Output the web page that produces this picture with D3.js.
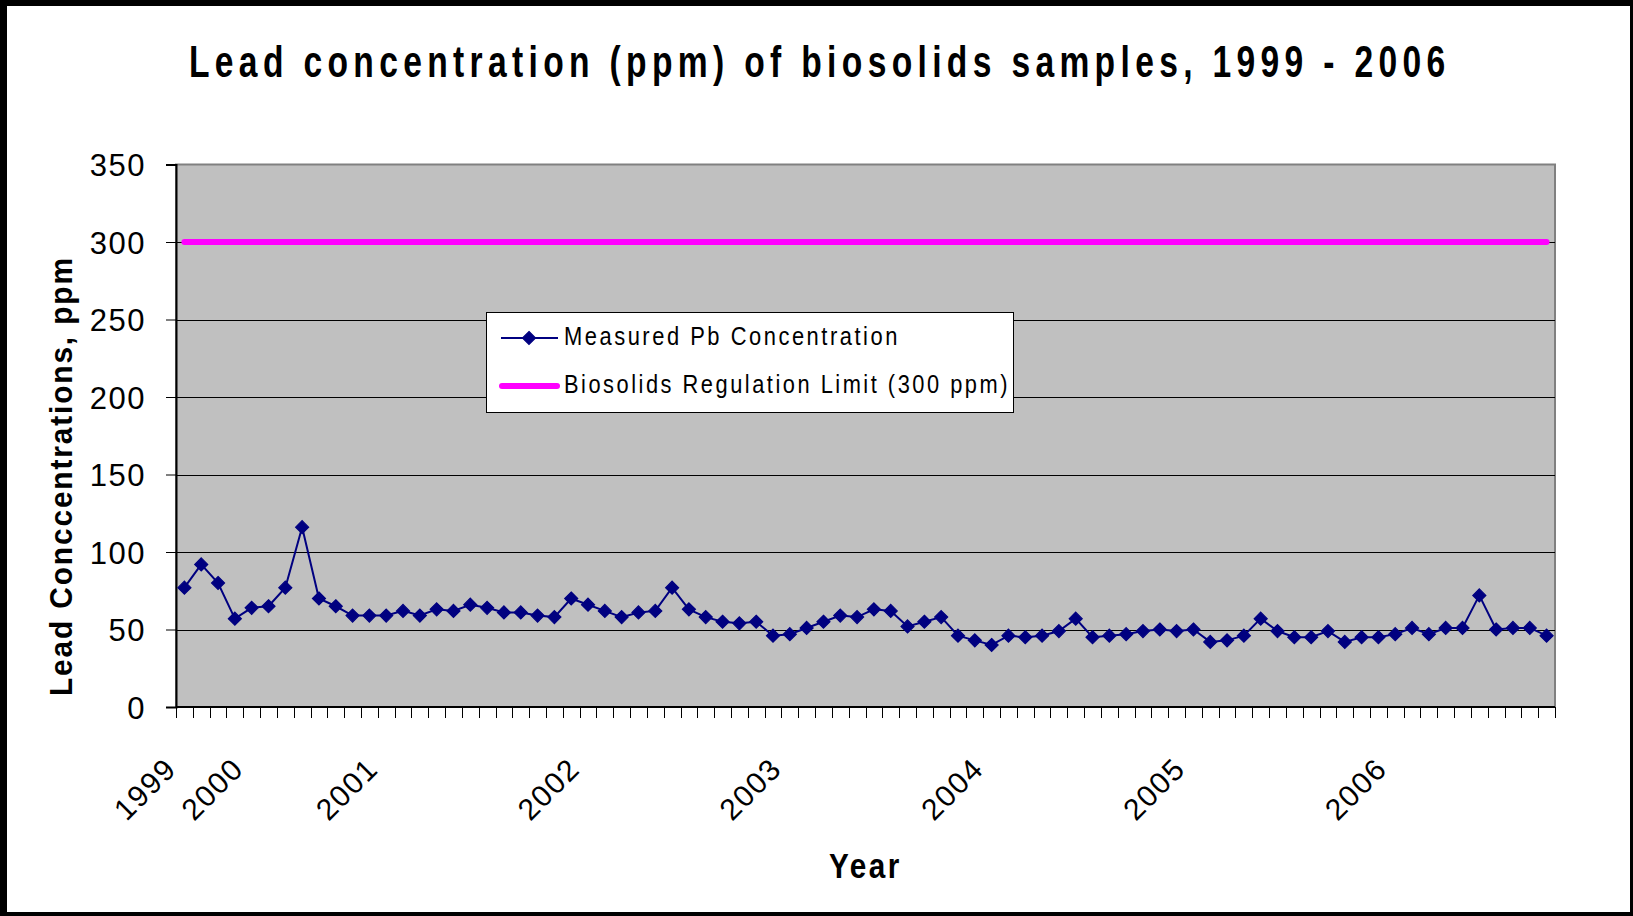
<!DOCTYPE html>
<html>
<head>
<meta charset="utf-8">
<script src="https://d3js.org/d3.v7.min.js"></script>
<style>
  body { margin: 0; background: #fff; }
  text { font-family: "Liberation Sans", Arial, sans-serif; fill: #000; }
</style>
</head>
<body>
<div id="chart"></div>
<script>
// monthly lead samples, Excel-style category axis
var pbValues = [77, 92, 80, 57, 64, 65, 77, 116, 70, 65, 59, 59, 59, 62, 59, 63, 62, 66, 64, 61,
    61, 59, 58, 70, 66, 62, 58, 61, 62, 77, 63, 58, 55, 54, 55, 46, 47, 51, 55, 59,
    58, 63, 62, 52, 55, 58, 46, 43, 40, 46, 45, 46, 49, 57, 45, 46, 47, 49, 50, 49,
    50, 42, 43, 46, 57, 49, 45, 45, 49, 42, 45, 45, 47, 51, 47, 51, 51, 72, 50, 51,
    51, 46];
var limitValue = 300;
var yearLabels = ["1999", "2000", "2001", "2002", "2003", "2004", "2005", "2006"];
var yearLabelIndex = [0, 4, 12, 24, 36, 48, 60, 72];
var yTicks = [0, 50, 100, 150, 200, 250, 300, 350];
var seriesNames = ["Measured Pb Concentration", "Biosolids Regulation Limit (300 ppm)"];

var svgWidth = 1633;
var svgHeight = 916;
var plot = { left: 176, right: 1555, top: 164.5, bottom: 707 };

var svg = d3.select("#chart")
    .append("svg")
    .attr("width", svgWidth)
    .attr("height", svgHeight);

// squeeze a text horizontally to a given width (the original uses a condensed face)
function fitText(sel, x, y, width, rotate) {
    var w = sel.node().getComputedTextLength();
    var s = width / w;
    if (rotate) {
        sel.attr("transform", `translate(${x}, ${y}) rotate(${rotate}) scale(${s}, 1)`);
    } else {
        sel.attr("transform", `translate(${x}, ${y}) scale(${s}, 1)`);
    }
    return sel;
}

// outer frame
svg.append("rect")
    .attr("width", svgWidth)
    .attr("height", svgHeight)
    .attr("fill", "#000");
svg.append("rect")
    .attr("x", 7)
    .attr("y", 6)
    .attr("width", 1623)
    .attr("height", 906)
    .attr("fill", "#fff");

var xBand = d3.scaleBand()
    .domain(d3.range(pbValues.length))
    .range([plot.left, plot.right]);

var yLinearScale = d3.scaleLinear()
    .domain([0, 350])
    .range([plot.bottom, plot.top]);

var xMid = function(i) { return xBand(i) + xBand.bandwidth() / 2; };

// plot area
svg.append("rect")
    .attr("x", plot.left)
    .attr("y", plot.top)
    .attr("width", plot.right - plot.left)
    .attr("height", plot.bottom - plot.top)
    .attr("fill", "#c0c0c0")
    .attr("stroke", "#808080")
    .attr("stroke-width", 2);

// gridlines
svg.append("g")
    .selectAll("line")
    .data(yTicks.slice(1, -1))
    .enter()
    .append("line")
    .attr("x1", plot.left)
    .attr("x2", plot.right)
    .attr("y1", d => Math.round(yLinearScale(d)) + 0.5)
    .attr("y2", d => Math.round(yLinearScale(d)) + 0.5)
    .attr("stroke", "#000")
    .attr("stroke-width", 1);

// y axis
var leftAxis = d3.axisLeft(yLinearScale)
    .tickValues(yTicks)
    .tickSize(10)
    .tickPadding(20);

var yAxisG = svg.append("g")
    .attr("transform", `translate(${plot.left}, 0)`)
    .call(leftAxis);
yAxisG.select(".domain").attr("stroke", "#000").attr("stroke-width", 2);
yAxisG.selectAll(".tick line").attr("stroke", "#000");
yAxisG.selectAll(".tick text")
    .attr("font-size", "31px")
    .attr("letter-spacing", "1.5px")
    .attr("font-family", "Liberation Sans, Arial, sans-serif")
    .attr("fill", "#000")
    .attr("dy", "0.36em");

// x axis: ticks on category boundaries
var xTickPos = d3.range(pbValues.length + 1).map(i => plot.left + i * xBand.bandwidth());
svg.append("g")
    .selectAll("line")
    .data(xTickPos)
    .enter()
    .append("line")
    .attr("x1", d => Math.round(d) + 0.5)
    .attr("x2", d => Math.round(d) + 0.5)
    .attr("y1", plot.bottom)
    .attr("y2", plot.bottom + 11)
    .attr("stroke", "#000")
    .attr("stroke-width", 1);

svg.append("line")
    .attr("x1", plot.left)
    .attr("x2", plot.right)
    .attr("y1", plot.bottom)
    .attr("y2", plot.bottom)
    .attr("stroke", "#000")
    .attr("stroke-width", 2);

svg.append("g")
    .selectAll("text")
    .data(yearLabels)
    .enter()
    .append("text")
    .attr("transform", (d, i) => `translate(${xMid(yearLabelIndex[i]) - 14}, 763) rotate(-45)`)
    .attr("text-anchor", "end")
    .attr("dy", "0.36em")
    .attr("font-size", "30px")
    .attr("letter-spacing", "1.5px")
    .text(d => d);

// limit line
svg.append("line")
    .attr("x1", xMid(0))
    .attr("x2", xMid(pbValues.length - 1))
    .attr("y1", yLinearScale(limitValue))
    .attr("y2", yLinearScale(limitValue))
    .attr("stroke", "#ff00ff")
    .attr("stroke-width", 6)
    .attr("stroke-linecap", "round");

// measured series
var line = d3.line()
    .x((d, i) => xMid(i))
    .y(d => yLinearScale(d));

svg.append("path")
    .datum(pbValues)
    .attr("d", line)
    .attr("fill", "none")
    .attr("stroke", "#000080")
    .attr("stroke-width", 2);

var diamond = "M0,-6.5L6.5,0L0,6.5L-6.5,0Z";
svg.append("g")
    .selectAll("path")
    .data(pbValues)
    .enter()
    .append("path")
    .attr("d", diamond)
    .attr("transform", (d, i) => `translate(${xMid(i)}, ${yLinearScale(d)})`)
    .attr("fill", "#000080")
    .attr("stroke", "#000080")
    .attr("stroke-width", 1.2)
    .attr("stroke-linejoin", "miter");

// titles
var title = svg.append("text")
    .attr("font-size", "44px")
    .attr("font-weight", "bold")
    .attr("letter-spacing", "7px")
    .text("Lead concentration (ppm) of biosolids samples, 1999 - 2006");
fitText(title, 189, 77, 1262);

var yTitle = svg.append("text")
    .attr("dy", "0.36em")
    .attr("font-size", "32px")
    .attr("font-weight", "bold")
    .attr("letter-spacing", "2px")
    .text("Lead Conccentrations, ppm");
fitText(yTitle, 60, 696, 440, -90);

var xTitle = svg.append("text")
    .attr("font-size", "35px")
    .attr("font-weight", "bold")
    .attr("letter-spacing", "3px")
    .text("Year");
fitText(xTitle, 829, 878, 73);

// legend
var legend = svg.append("g");
legend.append("rect")
    .attr("x", 486.5)
    .attr("y", 312.5)
    .attr("width", 527)
    .attr("height", 100)
    .attr("fill", "#fff")
    .attr("stroke", "#000")
    .attr("stroke-width", 1);

legend.append("line")
    .attr("x1", 501).attr("x2", 558)
    .attr("y1", 338).attr("y2", 338)
    .attr("stroke", "#000080")
    .attr("stroke-width", 2);
legend.append("path")
    .attr("d", diamond)
    .attr("transform", "translate(529, 338)")
    .attr("fill", "#000080")
    .attr("stroke", "#000080")
    .attr("stroke-width", 1.2);
legend.append("line")
    .attr("x1", 502).attr("x2", 557)
    .attr("y1", 386).attr("y2", 386)
    .attr("stroke", "#ff00ff")
    .attr("stroke-width", 6)
    .attr("stroke-linecap", "round");

legend.selectAll("text")
    .data(seriesNames)
    .enter()
    .append("text")
    .attr("font-size", "26px")
    .attr("letter-spacing", "3px")
    .text(d => d)
    .each(function(d, i) {
        fitText(d3.select(this), 564, 344.5 + i * 48.5, i === 0 ? 336 : 446);
    });
</script>
</body>
</html>
